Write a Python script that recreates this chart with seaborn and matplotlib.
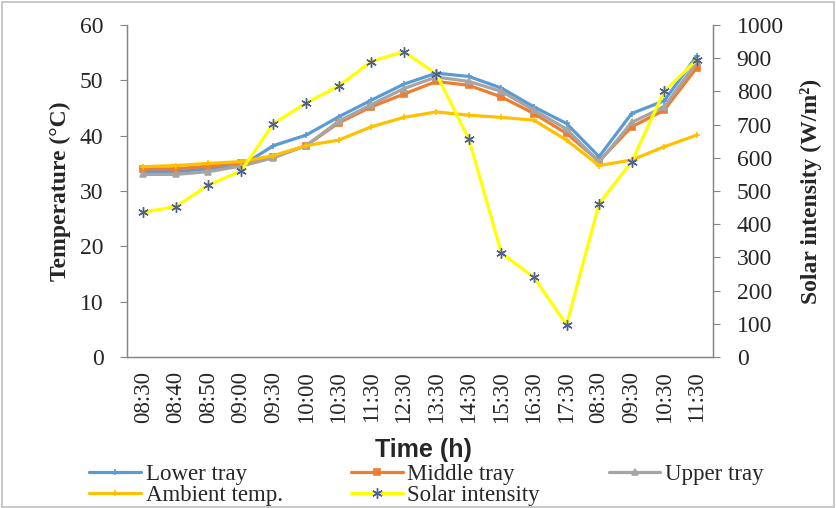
import seaborn as sns
import matplotlib.pyplot as plt
import pandas as pd
from matplotlib.patches import Rectangle

# data
times = ['08:30', '08:40', '08:50', '09:00', '09:30', '10:00', '10:30', '11:30', '12:30',
         '13:30', '14:30', '15:30', '16:30', '17:30', '08:30', '09:30', '10:30', '11:30']
lower_tray = [33.5, 33.5, 34.0, 34.5, 38.2, 40.1, 43.4, 46.4, 49.3,
              51.3, 50.7, 48.6, 45.2, 42.2, 36.2, 44.0, 46.3, 54.4]
middle_tray = [34.0, 34.0, 34.5, 35.0, 36.2, 38.2, 42.3, 45.2, 47.5,
               49.8, 49.1, 47.0, 44.0, 40.4, 35.4, 41.6, 44.6, 52.3]
upper_tray = [33.0, 33.0, 33.5, 34.5, 36.0, 38.2, 42.6, 45.6, 48.5,
              50.6, 49.8, 48.0, 44.6, 41.2, 35.2, 42.4, 45.2, 53.3]
ambient = [34.4, 34.6, 35.0, 35.3, 36.4, 38.2, 39.2, 41.6, 43.3,
           44.3, 43.7, 43.3, 42.8, 39.2, 34.6, 35.6, 38.0, 40.1]
solar = [436, 453, 518, 560, 703, 765, 816, 890, 920,
         853, 657, 313, 240, 97, 462, 588, 800, 895]

sns.set_style('white')
plt.rcParams['font.family'] = ['Liberation Serif', 'DejaVu Serif']

df = pd.DataFrame({'pos': range(len(times)), 'Lower tray': lower_tray,
                   'Middle tray': middle_tray, 'Upper tray': upper_tray,
                   'Ambient temp.': ambient, 'Solar intensity': solar})

fig = plt.figure(figsize=(8.36, 5.08), dpi=100)
ax = fig.add_axes([0.1519, 0.2972, 0.7010, 0.6536])
ax2 = ax.twinx()

# temperature series on the left axis
styles = {'Lower tray': ('#5B9BD5', '+'), 'Middle tray': ('#ED7D31', 's'),
          'Upper tray': ('#A5A5A5', '^'), 'Ambient temp.': ('#FFC000', '+')}
for name, (col, mk) in styles.items():
    sns.lineplot(data=df, x='pos', y=name, ax=ax, color=col, lw=2.3, marker=mk,
                 markersize=4.5, markeredgecolor=col, markeredgewidth=1.2, label=name,
                 legend=False)

# solar intensity on the right axis
sns.lineplot(data=df, x='pos', y='Solar intensity', ax=ax2, color='#FFFF00', lw=2.3,
             marker=(6, 2, 0), markersize=7.5, markeredgecolor='#4F5F8F',
             markeredgewidth=1.0, label='Solar intensity', legend=False)

spine_col = '#868686'
ax.set_xlim(-0.5, len(times) - 0.5)
ax.set_ylim(0, 60)
ax2.set_ylim(0, 1000)
ax.set_yticks(range(0, 61, 10))
ax2.set_yticks(range(0, 1001, 100))
ax.set_xticks(range(len(times)))
ax.set_xticklabels(times, rotation=90, fontsize=16.5)
ax.set_xticks([i - 0.5 for i in range(len(times) + 1)], minor=True)
ax.tick_params(axis='x', which='major', length=0, pad=10)
ax.tick_params(axis='x', which='minor', length=5, color=spine_col, width=0.8)
ax.tick_params(axis='y', length=5, color=spine_col, width=0.8, labelsize=17, pad=12)
ax2.tick_params(axis='y', length=5, color=spine_col, width=0.8, labelsize=17, pad=12)
ax.set_xlabel('')
ax.set_ylabel('Temperature (°C)', fontsize=17, fontweight='bold', labelpad=6)
ax2.set_ylabel('Solar intensity (W/m²)', fontsize=17, fontweight='bold', labelpad=12)

for a in (ax, ax2):
    a.spines['top'].set_visible(False)
    for s in ('left', 'right', 'bottom'):
        a.spines[s].set_color(spine_col)
        a.spines[s].set_linewidth(0.9)
    a.grid(False)

fig.text(0.507, 0.114, 'Time (h)', ha='center', va='center', fontsize=18,
         fontweight='bold', family='Liberation Sans')

# legend, filled column-wise so rows read Lower/Middle/Upper then Ambient/Solar
h1, l1 = ax.get_legend_handles_labels()
h2, l2 = ax2.get_legend_handles_labels()
hd = dict(zip(l1 + l2, h1 + h2))
order = ['Lower tray', 'Ambient temp.', 'Middle tray', 'Solar intensity', 'Upper tray']
fig.legend([hd[k] for k in order], order, ncol=3, loc='upper left',
           bbox_to_anchor=(0.107, 0.086), frameon=False, fontsize=16.5,
           handlelength=2.25, handletextpad=0.2, columnspacing=3.0,
           labelspacing=0.0, borderaxespad=0, borderpad=0)

fig.patches.append(Rectangle((0.002, 0.002), 0.996, 0.994, transform=fig.transFigure,
                             fill=False, edgecolor='#BFBFBF', lw=1.2))

fig.savefig('out.png', dpi=100)
